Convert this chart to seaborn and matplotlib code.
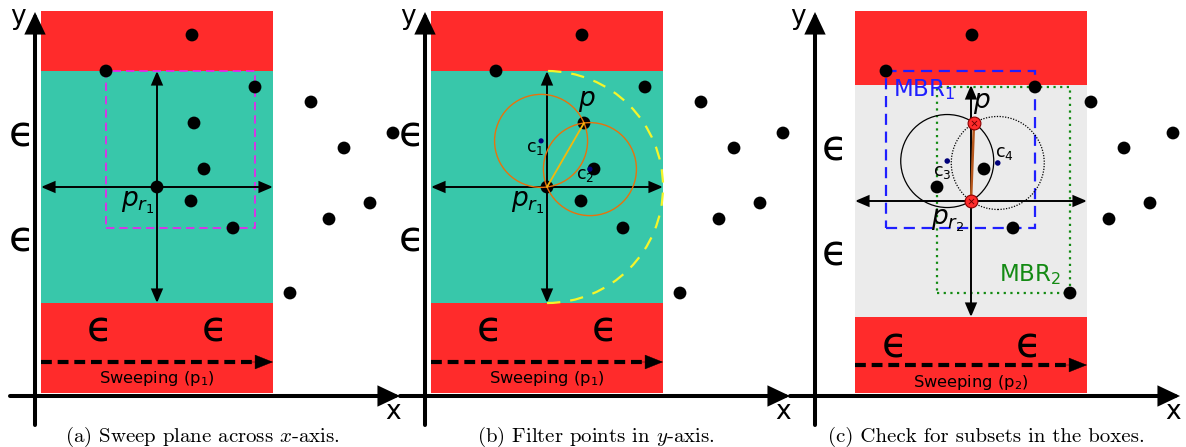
import numpy as np
import matplotlib
matplotlib.use("Agg")
import matplotlib.pyplot as plt
import seaborn as sns
import pandas as pd
from matplotlib.patches import Rectangle, Circle, Arc, FancyArrowPatch

# ---------------- data (units: diagram units, origin at the axis crossing) ----
point_x = [157, 71, 220, 276, 358, 159, 309, 169, 122, 156, 335, 294, 198, 255]
point_y = [361, 325, 309, 294, 263, 273, 248, 227, 209, 195, 193, 177, 168, 103]
IDX_P = 5        # query point p
IDX_PR1 = 8      # reference point p_r1
IDX_PR2 = 9      # reference point p_r2
EPS = 116        # epsilon
CIRCLE_R = 46.5  # radius of the candidate circles

captions = ["(a) Sweep plane across $x$-axis.",
            "(b) Filter points in $y$-axis.",
            "(c) Check for subsets in the boxes."]
sweep_labels = ["Sweeping (p$_1$)", "Sweeping (p$_1$)", "Sweeping (p$_2$)"]
pr_labels = ["$p_{r_1}$", "$p_{r_1}$", "$p_{r_2}$"]
center_labels_b = ["c$_1$", "c$_2$"]
center_labels_c = ["c$_3$", "c$_4$"]
mbr_labels = ["MBR$_1$", "MBR$_2$"]

# ---------------- style -------------------------------------------------------
RED = "#ff2b2b"
TEAL = "#38c7aa"
GRAY = "#ebebeb"
ORANGE = "#e8720c"
GOLD = "#f2b90c"
YELLOW = "#f5f52a"
NAVY = "#00007a"

sns.set_theme(style="white")
plt.rcParams["font.family"] = ["DejaVu Sans"]
plt.rcParams["mathtext.fontset"] = "dejavusans"
plt.rcParams["text.color"] = "black"

W, H = 1186, 447
fig = plt.figure(figsize=(W / 100, H / 100), dpi=100)
ax = fig.add_axes([0, 0, 1, 1])

panel_ox = [35, 425, 815]
OY = 51

px = np.array(point_x, dtype=float)
py = np.array(point_y, dtype=float)


def T(k, x, y):
    return panel_ox[k] + x, OY + y


def arrow(k, a, b, style, ms, lw, color="black", z=4):
    p = FancyArrowPatch(T(k, *a), T(k, *b), arrowstyle=style, mutation_scale=ms,
                        lw=lw, color=color, shrinkA=0, shrinkB=0, zorder=z,
                        joinstyle="miter")
    ax.add_patch(p)


def circle_centers(pr, p, r):
    pr = np.asarray(pr, float); p = np.asarray(p, float)
    d = p - pr
    L = np.hypot(*d)
    mid = (pr + p) / 2
    h = np.sqrt(max(r * r - (L / 2) ** 2, 0))
    perp = np.array([-d[1], d[0]]) / L
    return mid + h * perp, mid - h * perp


def mbr(center):
    cx, cy = center
    m = (np.abs(px - cx) <= EPS) & (np.abs(py - cy) <= EPS)
    return px[m].min(), py[m].min(), px[m].max(), py[m].max()


EPS_FS = 30

for k in range(3):
    pr_idx = IDX_PR1 if k < 2 else IDX_PR2
    cx, cy = px[pr_idx], py[pr_idx]
    left, right = cx - EPS, cx + EPS
    bottom_band, top_band = cy - EPS, cy + EPS
    # sweep strip
    x0, y0 = T(k, left, 3)
    ax.add_patch(Rectangle((x0, y0), 2 * EPS, 382, color=RED, lw=0, zorder=1))
    bx, by = T(k, left, bottom_band)
    ax.add_patch(Rectangle((bx, by), 2 * EPS, 2 * EPS,
                           color=(TEAL if k < 2 else GRAY), lw=0, zorder=2))

    # coordinate axes
    arrow(k, (-25, 0), (365, 0), "-|>,head_length=0.95,head_width=0.45", 12, 2.9)
    arrow(k, (0, -29), (0, 384), "-|>,head_length=0.95,head_width=0.45", 12, 2.9)
    ax.text(*T(k, -17, 379), "y", fontsize=19, ha="center", va="center", zorder=7)
    ax.text(*T(k, 358, -16), "x", fontsize=19, ha="center", va="center", zorder=7)

    # epsilon labels
    ex = -13 if k < 2 else 20
    ax.text(*T(k, ex, cy + EPS * 0.45), "ϵ", fontsize=EPS_FS, ha="center", va="center", zorder=7)
    ax.text(*T(k, ex, cy - EPS * 0.45), "ϵ", fontsize=EPS_FS, ha="center", va="center", zorder=7)
    ey = 66 if k < 2 else 51
    e1 = left + (59 if k < 2 else 40)
    ax.text(*T(k, e1, ey), "ϵ", fontsize=EPS_FS, ha="center", va="center", zorder=7)
    ax.text(*T(k, left + 174, ey), "ϵ", fontsize=EPS_FS, ha="center", va="center", zorder=7)

    # sweeping arrow
    sy = 34 if k < 2 else 31
    xa, ya = T(k, left, sy)
    xb, _ = T(k, right - 16, sy)
    ax.plot([xa, xb], [ya, ya], color="black", lw=3.0,
            linestyle=(0, (2.6, 1.4)), dash_capstyle="butt", zorder=4)
    arrow(k, (right - 30, sy), (right, sy), "-|>,head_length=1.25,head_width=0.5", 10, 0.3)
    ax.text(*T(k, cx, sy - 17), sweep_labels[k], fontsize=11.7, ha="center", va="center", zorder=7)

    # crosshair around reference point
    arrow(k, (left, cy), (right, cy), "<|-|>,head_length=0.8,head_width=0.34", 10, 1.4, z=4.5)
    arrow(k, (cx, bottom_band), (cx, top_band), "<|-|>,head_length=0.8,head_width=0.34", 10, 1.4, z=4.5)

    # points
    keep = np.ones(len(px), bool)
    if k == 2:
        keep[[IDX_P, IDX_PR2]] = False
    sx, sy2 = T(k, px[keep], py[keep])
    df = pd.DataFrame({"x": sx, "y": sy2})
    sns.scatterplot(data=df, x="x", y="y", ax=ax, color="black", s=85,
                    edgecolor="none", zorder=5, legend=False)

    # p_r label
    off = (-19, -16) if k < 2 else (-23, -20)
    ax.text(*T(k, cx + off[0], cy + off[1]), pr_labels[k], fontsize=19,
            ha="center", va="center", zorder=7)

    # captions
    cap_cx = [202, 596, 986][k]
    ax.text(cap_cx, 10, captions[k], fontsize=15, family="cmr10",
            math_fontfamily="cm", ha="center", va="center", zorder=7)

    if k == 0:
        x1, y1, x2, y2 = mbr((cx, cy))
        rx, ry = T(k, x1, y1)
        ax.add_patch(Rectangle((rx, ry), x2 - x1, y2 - y1, fill=False,
                               edgecolor="#f01df0", lw=1.2, linestyle=(0, (5, 3)), zorder=3))

    if k == 1:
        pxx, pyy = px[IDX_P], py[IDX_P]
        c1, c2 = circle_centers((cx, cy), (pxx, pyy), CIRCLE_R)
        ax.add_patch(Arc(T(k, cx, cy), 2 * EPS, 2 * EPS, theta1=-90, theta2=90,
                         color=YELLOW, lw=1.6, linestyle=(0, (6, 4.5)), zorder=3))
        for c in (c1, c2):
            ax.add_patch(Circle(T(k, *c), CIRCLE_R, fill=False, edgecolor=ORANGE,
                                lw=1.0, zorder=6))
        xs, ys = T(k, np.array([cx, pxx]), np.array([cy, pyy]))
        ax.plot(xs, ys, color=GOLD, lw=1.3, zorder=6)
        cdf = pd.DataFrame({"x": T(k, np.array([c1[0], c2[0]]), 0)[0],
                            "y": T(k, 0, np.array([c1[1], c2[1]]))[1]})
        sns.scatterplot(data=cdf, x="x", y="y", ax=ax, color=NAVY, s=14,
                        marker="o", edgecolor="none", zorder=6.5, legend=False)
        ax.text(*T(k, c1[0] - 6, c1[1] - 7), center_labels_b[0], fontsize=12.5,
                ha="center", va="center", zorder=7)
        ax.text(*T(k, c2[0] - 5, c2[1] - 6), center_labels_b[1], fontsize=12.5,
                ha="center", va="center", zorder=7)
        ax.text(*T(k, pxx + 3, pyy + 22), "$p$", fontsize=19, ha="center",
                va="center", zorder=7)

    if k == 2:
        pxx, pyy = px[IDX_P], py[IDX_P]
        # MBR1 (box of p_r1) and MBR2 (box of p_r2)
        a1 = mbr((px[IDX_PR1], py[IDX_PR1]))
        a2 = mbr((cx, cy))
        rx, ry = T(k, a1[0], a1[1])
        ax.add_patch(Rectangle((rx, ry), a1[2] - a1[0], a1[3] - a1[1], fill=False,
                               edgecolor="#1f1fff", lw=1.6, linestyle=(0, (5, 3)), zorder=3))
        rx, ry = T(k, a2[0], a2[1])
        ax.add_patch(Rectangle((rx, ry), a2[2] - a2[0], a2[3] - a2[1], fill=False,
                               edgecolor="#138a13", lw=1.6, linestyle=(0, (1, 2)), zorder=3))
        ax.text(*T(k, 109, 306), mbr_labels[0], fontsize=16.5, color="#1f1fff",
                ha="center", va="center", zorder=7)
        ax.text(*T(k, 215, 121), mbr_labels[1], fontsize=16.5, color="#138a13",
                ha="center", va="center", zorder=7)
        c3, c4 = circle_centers((cx, cy), (pxx, pyy), CIRCLE_R)
        ax.add_patch(Circle(T(k, *c3), CIRCLE_R, fill=False, edgecolor="black",
                            lw=0.9, zorder=3.5))
        ax.add_patch(Circle(T(k, *c4), CIRCLE_R, fill=False, edgecolor="black",
                            lw=0.9, linestyle=(0, (1, 1.2)), zorder=3.5))
        xs, ys = T(k, np.array([cx, pxx]), np.array([cy, pyy]))
        ax.plot(xs, ys, color="#b5561b", lw=1.8, zorder=5.5)
        rdf = pd.DataFrame({"x": xs, "y": ys})
        sns.scatterplot(data=rdf, x="x", y="y", ax=ax, color=RED, s=85,
                        edgecolor="#8a0000", linewidth=0.8, zorder=6, legend=False)
        sns.scatterplot(data=rdf, x="x", y="y", ax=ax, color="#600000", s=14,
                        marker="x", linewidth=0.6, zorder=6.5, legend=False)
        cdf = pd.DataFrame({"x": T(k, np.array([c3[0], c4[0]]), 0)[0],
                            "y": T(k, 0, np.array([c3[1], c4[1]]))[1]})
        sns.scatterplot(data=cdf, x="x", y="y", ax=ax, color=NAVY, s=16,
                        marker="o", edgecolor="none", zorder=6.5, legend=False)
        ax.text(*T(k, c3[0] - 5, c3[1] - 11), center_labels_c[0], fontsize=12.5,
                ha="center", va="center", zorder=7)
        ax.text(*T(k, c4[0] + 7, c4[1] + 10), center_labels_c[1], fontsize=12.5,
                ha="center", va="center", zorder=7)
        ax.text(*T(k, pxx + 8, pyy + 20), "$p$", fontsize=19, ha="center",
                va="center", zorder=7)

ax.set_xlim(0, W)
ax.set_ylim(0, H)
ax.axis("off")
fig.savefig("out.png", dpi=100)
